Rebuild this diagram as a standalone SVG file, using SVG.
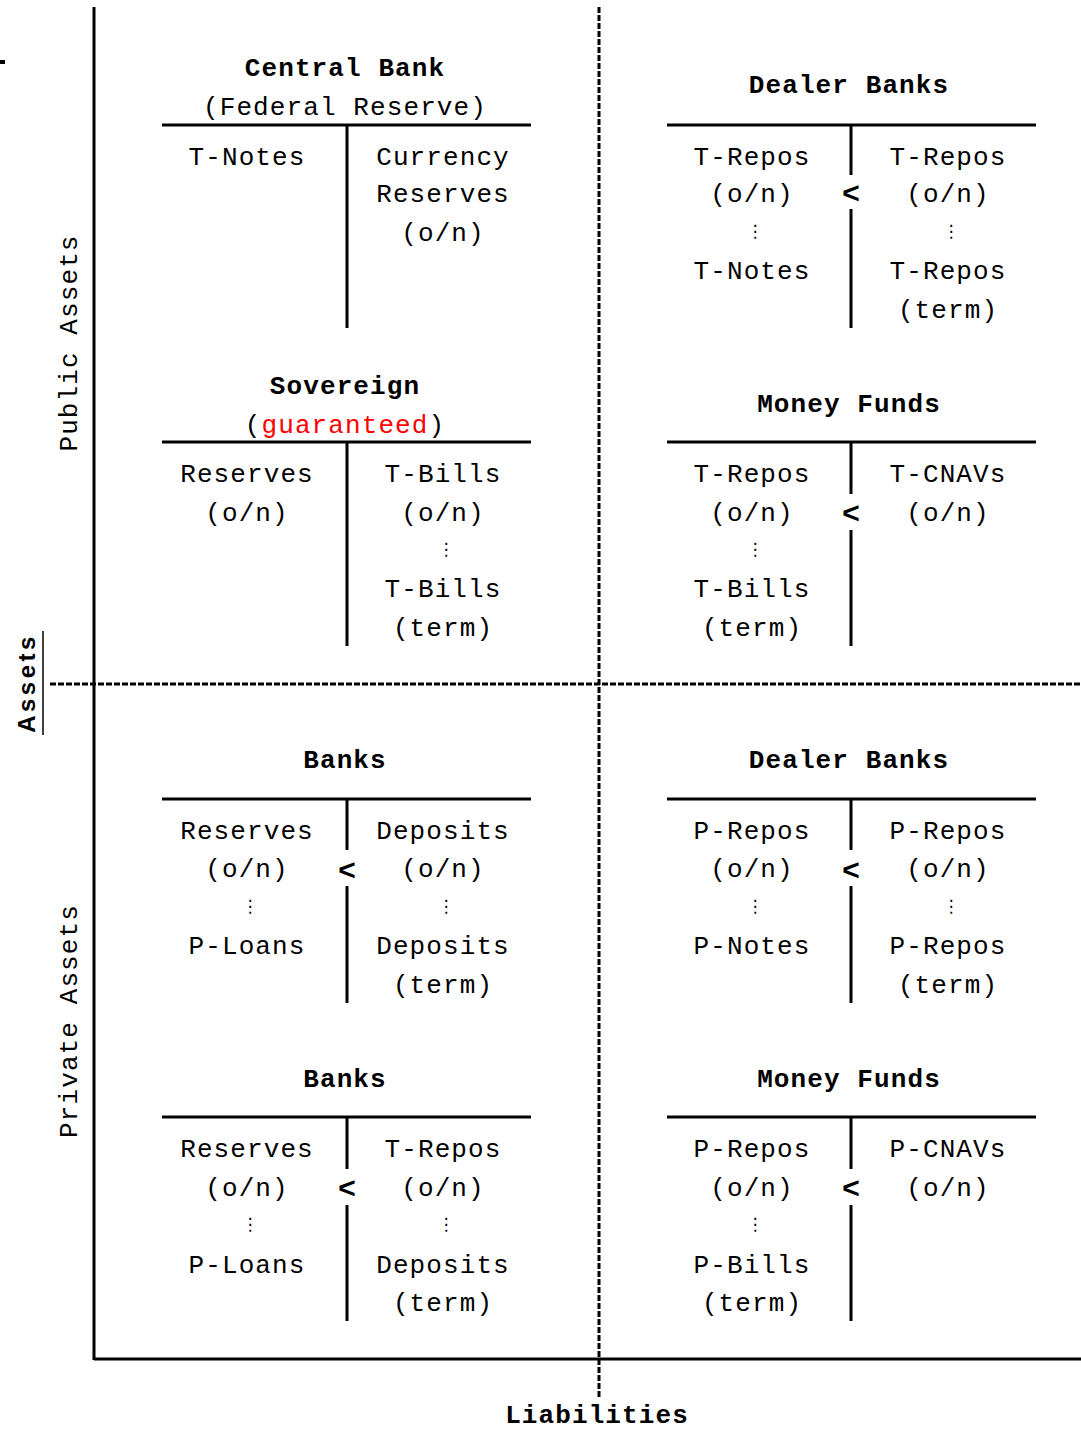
<svg xmlns="http://www.w3.org/2000/svg" width="1081" height="1430" viewBox="0 0 1081 1430">
<style>
text{font-family:"Liberation Mono","Courier New",monospace;font-size:26px;letter-spacing:1.1px;text-anchor:middle;fill:#000}
.b{font-weight:bold}
.red{fill:#ff0000}
.dots{font-family:"DejaVu Sans",sans-serif;font-size:17px;letter-spacing:0}
.lt{font-size:30px;font-weight:bold;letter-spacing:0}
.ln{stroke:#000;stroke-width:3;fill:none}
.dash{stroke:#000;stroke-width:3;fill:none;stroke-dasharray:6 2}
.ax{font-family:"Liberation Sans",Arial,sans-serif;font-weight:bold;font-size:24px;letter-spacing:3.5px}
</style>
<rect width="1081" height="1430" fill="#fff"/>
<g id="axes">
<rect x="0" y="60" width="5" height="4" fill="#000"/>
<line class="ln" x1="94" y1="7" x2="94" y2="1360"/>
<line class="ln" x1="94" y1="1359" x2="1081" y2="1359"/>
<line class="dash" x1="599" y1="7" x2="599" y2="1398"/>
<line class="dash" x1="50" y1="684" x2="1081" y2="684"/>
<text transform="translate(77,343) rotate(-90)">Public Assets</text>
<text transform="translate(77,1021) rotate(-90)">Private Assets</text>
<text class="ax" transform="translate(35,683) rotate(-90)">Assets</text>
<line x1="43" y1="631" x2="43" y2="735" stroke="#000" stroke-width="1.5"/>
<text class="b" x="597" y="1423">Liabilities</text>
</g>
<g id="central-bank">
<text class="b" x="345" y="76">Central Bank</text>
<text x="345" y="115">(Federal Reserve)</text>
<line class="ln" x1="162" y1="125" x2="531" y2="125"/>
<line class="ln" x1="347" y1="125" x2="347" y2="328"/>
<text x="247" y="165">T-Notes</text>
<text x="443" y="165">Currency</text>
<text x="443" y="202">Reserves</text>
<text x="443" y="241">(o/n)</text>
</g>
<g id="dealer-banks-public">
<text class="b" x="849" y="93">Dealer Banks</text>
<line class="ln" x1="667" y1="125" x2="1036" y2="125"/>
<line class="ln" x1="851" y1="125" x2="851" y2="175"/>
<line class="ln" x1="851" y1="209" x2="851" y2="328"/>
<text class="lt" x="851" y="203">&lt;</text>
<text x="752" y="165">T-Repos</text>
<text x="752" y="202">(o/n)</text>
<text class="dots" x="755" y="237">⋮</text>
<text x="752" y="279">T-Notes</text>
<text x="948" y="165">T-Repos</text>
<text x="948" y="202">(o/n)</text>
<text class="dots" x="951" y="237">⋮</text>
<text x="948" y="279">T-Repos</text>
<text x="948" y="318">(term)</text>
</g>
<g id="sovereign">
<text class="b" x="345" y="394">Sovereign</text>
<text x="345" y="433">(<tspan class="red">guaranteed</tspan>)</text>
<line class="ln" x1="162" y1="442" x2="531" y2="442"/>
<line class="ln" x1="347" y1="442" x2="347" y2="646"/>
<text x="247" y="482">Reserves</text>
<text x="247" y="521">(o/n)</text>
<text x="443" y="482">T-Bills</text>
<text x="443" y="521">(o/n)</text>
<text class="dots" x="446" y="555">⋮</text>
<text x="443" y="597">T-Bills</text>
<text x="443" y="636">(term)</text>
</g>
<g id="money-funds-public">
<text class="b" x="849" y="412">Money Funds</text>
<line class="ln" x1="667" y1="442" x2="1036" y2="442"/>
<line class="ln" x1="851" y1="442" x2="851" y2="494"/>
<line class="ln" x1="851" y1="530" x2="851" y2="646"/>
<text class="lt" x="851" y="523">&lt;</text>
<text x="752" y="482">T-Repos</text>
<text x="752" y="521">(o/n)</text>
<text class="dots" x="755" y="555">⋮</text>
<text x="752" y="597">T-Bills</text>
<text x="752" y="636">(term)</text>
<text x="948" y="482">T-CNAVs</text>
<text x="948" y="521">(o/n)</text>
</g>
<g id="banks-1">
<text class="b" x="345" y="768">Banks</text>
<line class="ln" x1="162" y1="799" x2="531" y2="799"/>
<line class="ln" x1="347" y1="799" x2="347" y2="850"/>
<line class="ln" x1="347" y1="886" x2="347" y2="1003"/>
<text class="lt" x="347" y="880">&lt;</text>
<text x="247" y="839">Reserves</text>
<text x="247" y="877">(o/n)</text>
<text class="dots" x="250" y="912">⋮</text>
<text x="247" y="954">P-Loans</text>
<text x="443" y="839">Deposits</text>
<text x="443" y="877">(o/n)</text>
<text class="dots" x="446" y="912">⋮</text>
<text x="443" y="954">Deposits</text>
<text x="443" y="993">(term)</text>
</g>
<g id="dealer-banks-private">
<text class="b" x="849" y="768">Dealer Banks</text>
<line class="ln" x1="667" y1="799" x2="1036" y2="799"/>
<line class="ln" x1="851" y1="799" x2="851" y2="850"/>
<line class="ln" x1="851" y1="886" x2="851" y2="1003"/>
<text class="lt" x="851" y="880">&lt;</text>
<text x="752" y="839">P-Repos</text>
<text x="752" y="877">(o/n)</text>
<text class="dots" x="755" y="912">⋮</text>
<text x="752" y="954">P-Notes</text>
<text x="948" y="839">P-Repos</text>
<text x="948" y="877">(o/n)</text>
<text class="dots" x="951" y="912">⋮</text>
<text x="948" y="954">P-Repos</text>
<text x="948" y="993">(term)</text>
</g>
<g id="banks-2">
<text class="b" x="345" y="1087">Banks</text>
<line class="ln" x1="162" y1="1117" x2="531" y2="1117"/>
<line class="ln" x1="347" y1="1117" x2="347" y2="1169"/>
<line class="ln" x1="347" y1="1205" x2="347" y2="1321"/>
<text class="lt" x="347" y="1198">&lt;</text>
<text x="247" y="1157">Reserves</text>
<text x="247" y="1196">(o/n)</text>
<text class="dots" x="250" y="1230">⋮</text>
<text x="247" y="1273">P-Loans</text>
<text x="443" y="1157">T-Repos</text>
<text x="443" y="1196">(o/n)</text>
<text class="dots" x="446" y="1230">⋮</text>
<text x="443" y="1273">Deposits</text>
<text x="443" y="1311">(term)</text>
</g>
<g id="money-funds-private">
<text class="b" x="849" y="1087">Money Funds</text>
<line class="ln" x1="667" y1="1117" x2="1036" y2="1117"/>
<line class="ln" x1="851" y1="1117" x2="851" y2="1169"/>
<line class="ln" x1="851" y1="1205" x2="851" y2="1321"/>
<text class="lt" x="851" y="1198">&lt;</text>
<text x="752" y="1157">P-Repos</text>
<text x="752" y="1196">(o/n)</text>
<text class="dots" x="755" y="1230">⋮</text>
<text x="752" y="1273">P-Bills</text>
<text x="752" y="1311">(term)</text>
<text x="948" y="1157">P-CNAVs</text>
<text x="948" y="1196">(o/n)</text>
</g>
</svg>
